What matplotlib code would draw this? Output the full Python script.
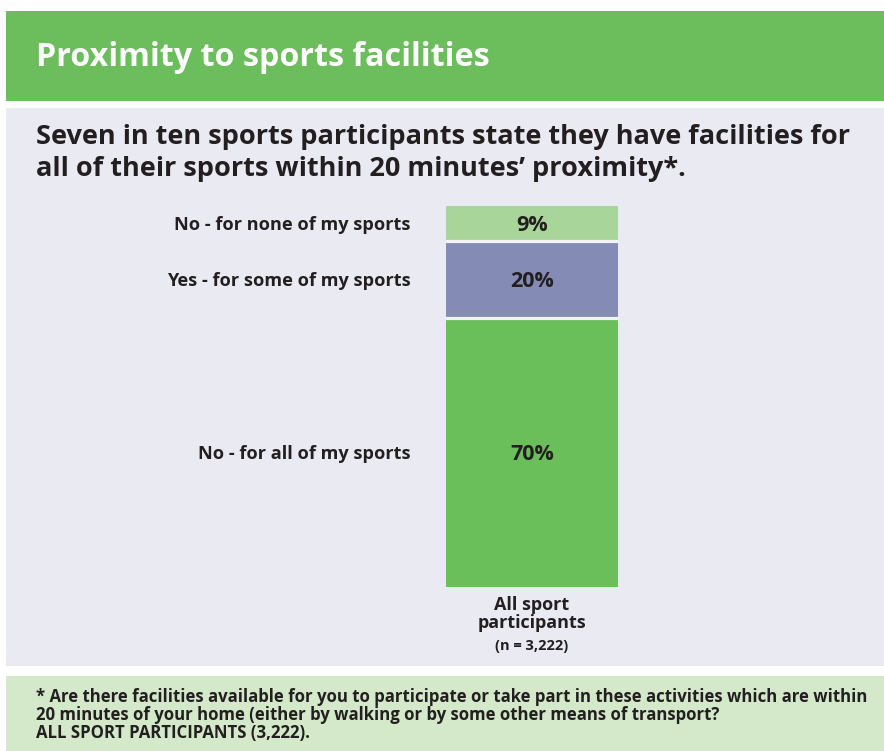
import matplotlib
matplotlib.use("Agg")
import matplotlib.pyplot as plt
from matplotlib.patches import Rectangle
import numpy as np

# Chart data
categories = ["No - for all of my sports", "Yes - for some of my sports", "No - for none of my sports"]
values = [70, 20, 9]
value_labels = ["70%", "20%", "9%"]
segment_colors = ["#6BBF5B", "#848BB4", "#A8D59A"]
group_label = "All sport\nparticipants"
group_n = "(n = 3,222)"

title = "Proximity to sports facilities"
subtitle = ("Seven in ten sports participants state they have facilities for\n"
            "all of their sports within 20 minutes\u2019 proximity*.")
footnote = ("* Are there facilities available for you to participate or take part in these activities which are within\n"
            "20 minutes of your home (either by walking or by some other means of transport?\n"
            "ALL SPORT PARTICIPANTS (3,222).")

W, H = 884, 751
DPI = 100
plt.rcParams["font.family"] = ["Open Sans", "DejaVu Sans"]
TEXT = "#231F20"

fig = plt.figure(figsize=(W / DPI, H / DPI), dpi=DPI)
fig.patch.set_facecolor("white")


def px_rect(x0, y0, x1, y1, color):
    """Rectangle in pixel coordinates measured from the top-left corner."""
    fig.patches.append(Rectangle((x0 / W, 1 - y1 / H), (x1 - x0) / W, (y1 - y0) / H,
                                 transform=fig.transFigure, facecolor=color,
                                 edgecolor="none", zorder=-10))


def px_text(x, y, s, **kw):
    fig.text(x / W, 1 - y / H, s, **kw)


# Background bands
px_rect(6, 11, W, 101, "#6BBE5B")      # header
px_rect(6, 108, W, 666, "#EAEAF2")     # chart panel
px_rect(6, 676, W, H, "#D3E9C9")       # footnote box

px_text(36, 57, title, color="white", fontsize=23.2, fontweight="bold",
        va="center", ha="left")
px_text(36, 153, subtitle, color=TEXT, fontsize=19.5, fontweight="bold",
        va="center", ha="left", linespacing=1.3)
px_text(36, 715, footnote, color=TEXT, fontsize=12.1, fontweight="bold",
        va="center", ha="left", linespacing=1.02)

# Stacked bar
bar_left, bar_right = 446, 618
bar_bottom, bar_top = 587, 206
total = sum(values)
ax = fig.add_axes([bar_left / W, 1 - bar_bottom / H,
                   (bar_right - bar_left) / W, (bar_bottom - bar_top) / H])
ax.set_xlim(-0.5, 0.5)
ax.set_ylim(0, total)
ax.axis("off")

bottoms = np.concatenate([[0], np.cumsum(values)[:-1]])
ax.bar([0] * len(values), values, bottom=bottoms, width=1.0,
       color=segment_colors, edgecolor="none")

# thin separators between segments
for b in bottoms[1:]:
    ax.axhline(b, color="#F2F2F7", linewidth=2.3)

for v, b, lab, cat in zip(values, bottoms, value_labels, categories):
    yc = b + v / 2
    ax.text(0, yc, lab, ha="center", va="center_baseline", fontsize=15.5,
            fontweight="bold", color=TEXT)
    ax.annotate(cat, xy=(0, yc), xycoords=("axes fraction", "data"),
                xytext=(411 - bar_left, 0), textcoords="offset pixels",
                ha="right", va="center_baseline", fontsize=13.1,
                fontweight="bold", color=TEXT)

px_text(532, 614, group_label, ha="center", va="center", fontsize=13,
        fontweight="bold", color=TEXT, linespacing=0.95)
px_text(532, 646, group_n, ha="center", va="center", fontsize=10.5,
        fontweight="bold", color=TEXT)

fig.savefig("out.png", dpi=DPI, facecolor=fig.get_facecolor())
